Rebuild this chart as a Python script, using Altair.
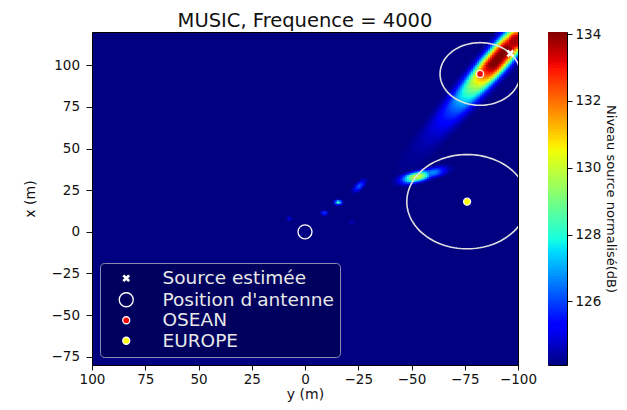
import numpy as np
import pandas as pd
import altair as alt

# ---------------- texts ----------------
TITLE = "MUSIC, Frequence = 4000"
X_TITLE = "y (m)"
Y_TITLE = "x (m)"
CBAR_TITLE = "Niveau source normalisé(dB)"

# ---------------- axes ----------------
x_ticks = [100, 75, 50, 25, 0, -25, -50, -75, -100]
y_ticks = [-75, -50, -25, 0, 25, 50, 75, 100]
cbar_ticks = [126, 128, 130, 132, 134]
x_domain = [100, -100]
y_domain = [-80, 120]
level_min = 124.1
level_max = 134.06

# ---------------- spectrum peaks ----------------
peak_h = [-91.4, -98.5, -52.5, -60.0, -25.5, -15.6, -9.1, 7.4, -22.0]   # horizontal "y (m)"
peak_v = [105.0, 114.5, 33.0, 35.5, 27.5, 17.7, 11.3, 7.9, 6.0]        # vertical "x (m)"
peak_amp = [9.95, 9.6, 5.9, 2.6, 2.1, 4.3, 1.9, 0.9, 0.5]               # dB above floor
peak_angle = [124, 124, 162, 162, 125, 0, 0, 0, 0]
peak_plateau = [6, 2, 0.5, 0, 0, 0, 0, 0, 0]
peak_s_along = [13.5, 6, 4.2, 4.0, 2.4, 0.95, 0.9, 0.7, 0.8]
peak_s_perp = [4.5, 4.3, 2.0, 1.9, 1.0, 0.8, 0.75, 0.7, 0.8]
peak_q_along = [1.3, 1.3, 2, 2, 2, 2, 2, 2, 2]
peak_q_perp = [2.8, 3, 2.5, 2.5, 2, 2, 2, 2, 2]

# ---------------- markers ----------------
marker_labels = ["Source estimée", "Position d'antenne", "OSEAN", "EUROPE"]
marker_h = [-96.4, 0.0, -82.2, -76.1]
marker_v = [107.1, 0.0, 94.8, 18.1]
marker_fill = ["white", "transparent", "red", "yellow"]

ring_h = [-82.2, -76.1]
ring_v = [94.8, 18.1]
ring_r = [18.8, 28.3]

# ---------------- field grid ----------------
hs = np.arange(-99.5, 100, 1.0)
vs = np.arange(-79.5, 120, 1.0)
H, V = np.meshgrid(hs, vs)
lev = np.zeros_like(H)
for i in range(len(peak_h)):
    th = np.deg2rad(peak_angle[i])
    dh = H - peak_h[i]
    dv = V - peak_v[i]
    u = dh * np.cos(th) + dv * np.sin(th)
    w = dh * np.sin(th) - dv * np.cos(th)
    ue = np.maximum(np.abs(u) - peak_plateau[i], 0)
    f = peak_amp[i] * np.exp(-0.5 * (ue / peak_s_along[i]) ** peak_q_along[i]
                             - 0.5 * (np.abs(w) / peak_s_perp[i]) ** peak_q_perp[i])
    lev = np.maximum(lev, f)
val = np.minimum(level_min + lev, level_max)
mask = lev > 0.06
half = 0.65  # cells overlap slightly so no seams show between them
heat = pd.DataFrame({
    "h0": np.maximum(H[mask] - half, -100), "h1": np.minimum(H[mask] + half, 100),
    "v0": np.maximum(V[mask] - half, -80), "v1": np.minimum(V[mask] + half, 120),
    "lvl": np.round(val[mask], 3),
}).sort_values("lvl").reset_index(drop=True)
heat["k"] = np.arange(len(heat))

# ---------------- jet colour scale ----------------
t_stops = [0, 0.11, 0.125, 0.34, 0.35, 0.375, 0.64, 0.65, 0.66, 0.89, 0.91, 1]


def jet_hex(t):
    r = np.interp(t, [0, 0.35, 0.66, 0.89, 1], [0, 0, 1, 1, 0.5])
    g = np.interp(t, [0, 0.125, 0.375, 0.64, 0.91, 1], [0, 0, 1, 1, 0, 0])
    b = np.interp(t, [0, 0.11, 0.34, 0.65, 1], [0.5, 1, 1, 0, 0])
    return "#%02x%02x%02x" % (int(round(r * 255)), int(round(g * 255)), int(round(b * 255)))


jet_domain = [level_min + t * (level_max - level_min) for t in t_stops]
jet_range = [jet_hex(t) for t in t_stops]


def jet_scale():
    return alt.Scale(domain=jet_domain, range=jet_range, clamp=True, interpolate="rgb")


# ---------------- rings and markers tables ----------------
ang = np.deg2rad(np.arange(0, 361, 3))
ring_rows = []
for k in range(len(ring_h)):
    for j, a in enumerate(ang):
        ring_rows.append({"ring": k, "ord": j,
                          "h": ring_h[k] + ring_r[k] * np.cos(a),
                          "v": ring_v[k] + ring_r[k] * np.sin(a)})
rings = pd.DataFrame(ring_rows)

pts = pd.DataFrame({"label": marker_labels, "h": marker_h, "v": marker_v})

X_PATH = ("M-0.42,-0.28L-0.28,-0.42L0,-0.14L0.28,-0.42L0.42,-0.28L0.14,0L0.42,0.28"
          "L0.28,0.42L0,0.14L-0.28,0.42L-0.42,0.28L-0.14,0Z")
CIRCLE_BIG = "M-1,0A1,1 0 1,0 1,0A1,1 0 1,0 -1,0Z"
DOT = "M-0.5,0A0.5,0.5 0 1,0 0.5,0A0.5,0.5 0 1,0 -0.5,0Z"
marker_shapes = [X_PATH, CIRCLE_BIG, DOT, DOT]

MINUS = "replace(datum.label, '-', '\u2212')"

xscale = alt.Scale(domain=x_domain, nice=False, zero=False)
yscale = alt.Scale(domain=y_domain, nice=False, zero=False)

x_axis = alt.Axis(values=x_ticks, labelExpr=MINUS, labelFlush=False, labelOverlap=False,
                  tickSize=5, labelPadding=2, titlePadding=1.5)
y_axis = alt.Axis(values=y_ticks, labelExpr=MINUS, labelFlush=False, labelOverlap=False,
                  tickSize=6, labelPadding=6.5, titlePadding=14)

heat_layer = alt.Chart(heat).mark_rect().encode(
    x=alt.X("h0:Q", scale=xscale, axis=x_axis, title=X_TITLE),
    x2="h1:Q",
    y=alt.Y("v0:Q", scale=yscale, axis=y_axis, title=Y_TITLE),
    y2="v1:Q",
    color=alt.Color("lvl:Q", scale=jet_scale(), legend=None),
    order=alt.Order("k:Q"),
)

ring_layer = alt.Chart(rings).mark_line(clip=True, color="#e0e0e0", strokeWidth=1.6).encode(
    x=alt.X("h:Q", title=X_TITLE),
    y=alt.Y("v:Q", title=Y_TITLE),
    detail="ring:N",
    order="ord:Q",
)

leg = alt.Legend(orient="bottom-left", offset=8, padding=6, fillColor="#00005e",
                 strokeColor="#8a8ab0", cornerRadius=4, labelFont="DejaVu Sans",
                 labelFontSize=18.5, labelColor="#e8e8e8", labelLimit=400, rowPadding=1.5,
                 symbolOffset=11, labelOffset=27, symbolSize=196, symbolStrokeWidth=1.3)

pts_layer = alt.Chart(pts).mark_point(filled=True, opacity=1, size=196, strokeWidth=1.3).encode(
    x=alt.X("h:Q", title=X_TITLE),
    y=alt.Y("v:Q", title=Y_TITLE),
    shape=alt.Shape("label:N", scale=alt.Scale(domain=marker_labels, range=marker_shapes),
                    legend=leg, title=None),
    fill=alt.Fill("label:N", scale=alt.Scale(domain=marker_labels, range=marker_fill),
                  legend=leg, title=None),
    stroke=alt.Stroke("label:N", scale=alt.Scale(domain=marker_labels,
                                                 range=["white", "white", "white", "white"]),
                      legend=leg, title=None),
)

PLOT_H = 333

main = alt.layer(heat_layer, ring_layer, pts_layer).properties(
    width=426, height=PLOT_H,
    view=alt.ViewBackground(fill="#000080", stroke="black", strokeWidth=1),
    title=alt.TitleParams(TITLE, fontSize=19.5, font="DejaVu Sans", fontWeight="normal",
                          color="#111111", anchor="middle", offset=1),
)

# ---------------- colour bar ----------------
n_bands = 120
edges = np.linspace(level_min, level_max, n_bands + 1)
cbar = pd.DataFrame({"c0": 0.0, "c1": 1.0, "b0": edges[:-1],
                     "b1": np.minimum(edges[1:] + 0.03, level_max),
                     "bm": (edges[:-1] + edges[1:]) / 2})

cbar_chart = alt.Chart(cbar).mark_rect().encode(
    x=alt.X("c0:Q", axis=None, scale=alt.Scale(domain=[0, 1], nice=False, zero=False)),
    x2="c1:Q",
    y=alt.Y("b0:Q", scale=alt.Scale(domain=[level_min, level_max], nice=False, zero=False),
            axis=alt.Axis(orient="right", values=cbar_ticks, title=CBAR_TITLE,
                          titleFontSize=13, titlePadding=3, tickSize=5, labelPadding=3)),
    y2="b1:Q",
    color=alt.Color("bm:Q", scale=jet_scale(), legend=None),
).properties(width=19, height=PLOT_H,
             view=alt.ViewBackground(stroke="black", strokeWidth=1))

chart = alt.hconcat(main, cbar_chart, spacing=9).properties(
    padding={"left": 14, "top": 2, "right": 0, "bottom": 0}
).configure(font="DejaVu Sans").configure_axis(
    domain=False, grid=False, ticks=True, tickColor="#111111", tickWidth=1,
    labelFont="DejaVu Sans", labelFontSize=13.5, labelColor="#111111",
    titleFont="DejaVu Sans", titleFontSize=14, titleFontWeight="normal", titleColor="#111111",
).configure_view(stroke="black", strokeWidth=1)

chart.save("out.html", embed_options={"renderer": "svg", "actions": False})
